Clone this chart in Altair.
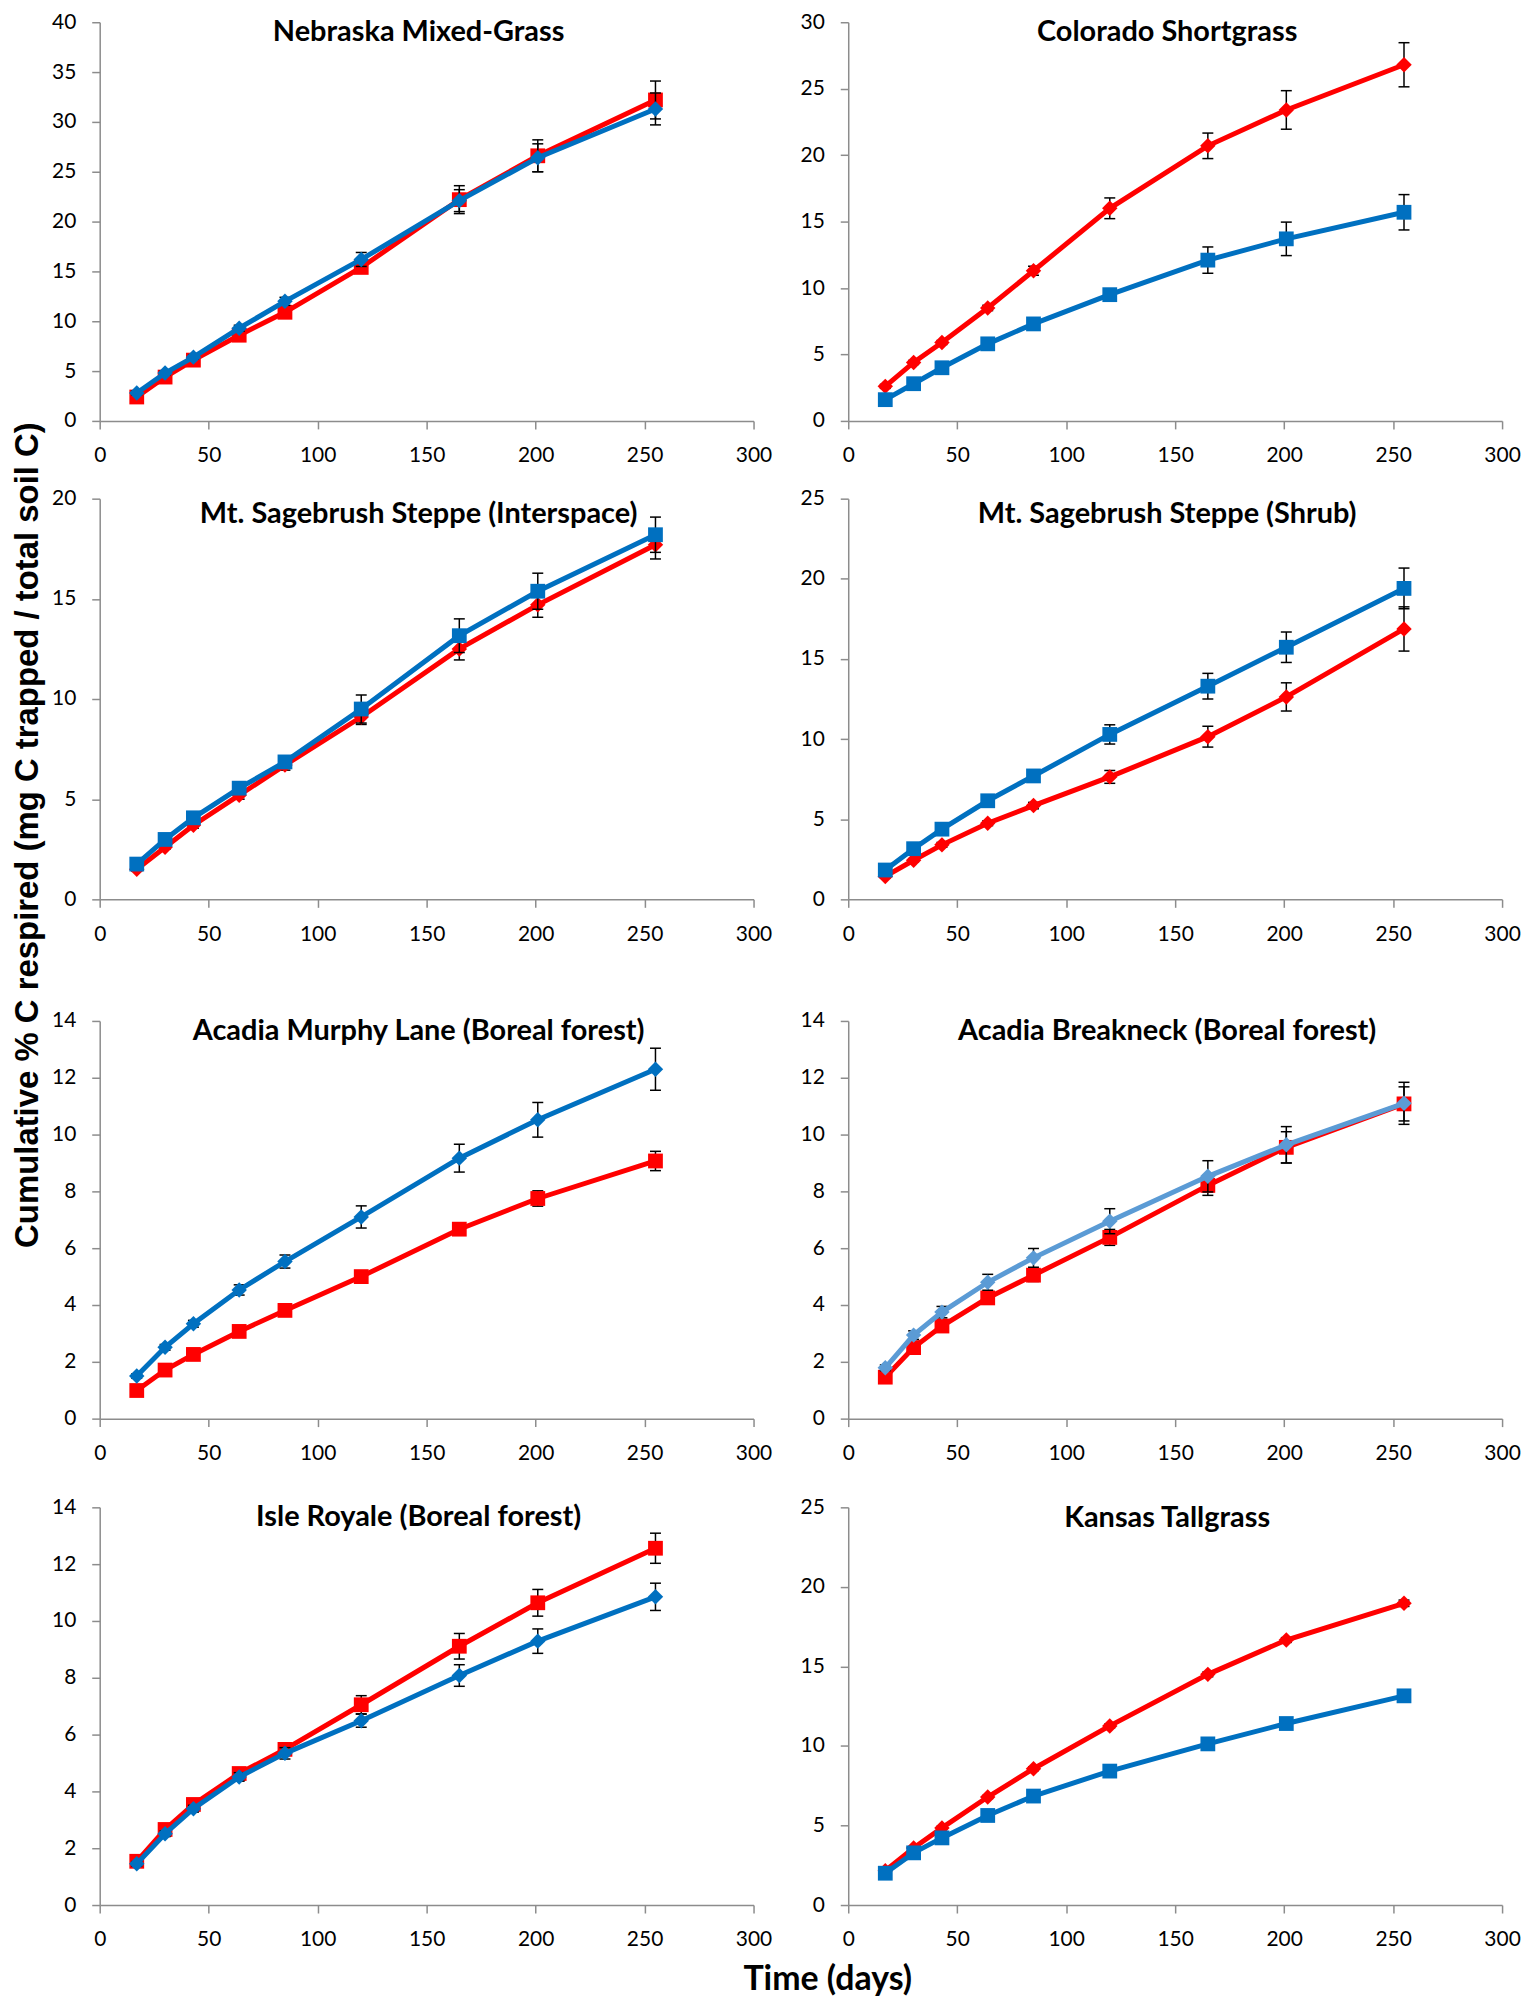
import altair as alt
import pandas as pd

# ---------------- data ----------------
days = [17, 30, 43, 64, 85, 120, 165, 201, 255]
x_ticks = [0, 50, 100, 150, 200, 250, 300]

panel_titles = [
    "Nebraska Mixed-Grass",
    "Colorado Shortgrass",
    "Mt. Sagebrush Steppe (Interspace)",
    "Mt. Sagebrush Steppe (Shrub)",
    "Acadia Murphy Lane (Boreal forest)",
    "Acadia Breakneck (Boreal forest)",
    "Isle Royale (Boreal forest)",
    "Kansas Tallgrass",
]
y_max = [40, 30, 20, 25, 14, 14, 14, 25]
y_step = [5, 5, 5, 5, 2, 2, 2, 5]

# Nebraska Mixed-Grass
neb_red = [2.4, 4.4, 6.1, 8.6, 10.9, 15.4, 22.2, 26.6, 32.2]
neb_red_err = [0.2, 0.2, 0.2, 0.3, 0.4, 0.5, 1.4, 1.6, 1.9]
neb_blue = [2.8, 4.8, 6.4, 9.3, 12.0, 16.2, 22.1, 26.4, 31.3]
neb_blue_err = [0.2, 0.2, 0.2, 0.3, 0.4, 0.7, 1.1, 1.4, 1.6]

# Colorado Shortgrass
col_red = [2.6, 4.4, 5.9, 8.5, 11.3, 16.0, 20.7, 23.4, 26.8]
col_red_err = [0.15, 0.15, 0.15, 0.2, 0.34, 0.78, 0.96, 1.45, 1.66]
col_blue = [1.6, 2.8, 4.0, 5.8, 7.3, 9.5, 12.1, 13.7, 15.7]
col_blue_err = [0.1, 0.15, 0.15, 0.2, 0.25, 0.3, 0.99, 1.26, 1.33]

# Mt. Sagebrush Steppe (Interspace)
int_red = [1.5, 2.6, 3.7, 5.2, 6.7, 9.1, 12.5, 14.7, 17.7]
int_red_err = [0.1, 0.1, 0.15, 0.2, 0.25, 0.37, 0.55, 0.62, 0.71]
int_blue = [1.76, 2.99, 4.07, 5.55, 6.86, 9.5, 13.16, 15.38, 18.2]
int_blue_err = [0.1, 0.1, 0.15, 0.2, 0.25, 0.7, 0.84, 0.9, 0.88]

# Mt. Sagebrush Steppe (Shrub)
shr_red = [1.43, 2.44, 3.4, 4.75, 5.85, 7.64, 10.15, 12.63, 16.87]
shr_red_err = [0.1, 0.1, 0.15, 0.15, 0.2, 0.4, 0.65, 0.88, 1.38]
shr_blue = [1.83, 3.16, 4.38, 6.15, 7.7, 10.29, 13.3, 15.73, 19.4]
shr_blue_err = [0.1, 0.15, 0.15, 0.2, 0.25, 0.6, 0.8, 0.95, 1.27]

# Acadia Murphy Lane
mur_red = [0.99, 1.71, 2.26, 3.07, 3.81, 5.0, 6.67, 7.75, 9.07]
mur_red_err = [0.05, 0.08, 0.08, 0.1, 0.1, 0.12, 0.15, 0.27, 0.34]
mur_blue = [1.5, 2.51, 3.34, 4.53, 5.53, 7.1, 9.17, 10.52, 12.3]
mur_blue_err = [0.08, 0.1, 0.12, 0.18, 0.23, 0.39, 0.49, 0.61, 0.74]

# Acadia Breakneck
brk_red = [1.46, 2.5, 3.26, 4.25, 5.05, 6.38, 8.21, 9.55, 11.08]
brk_red_err = [0.1, 0.12, 0.15, 0.2, 0.22, 0.28, 0.35, 0.55, 0.6]
brk_blue = [1.79, 2.94, 3.75, 4.8, 5.66, 6.95, 8.53, 9.64, 11.1]
brk_blue_err = [0.1, 0.15, 0.2, 0.28, 0.33, 0.44, 0.55, 0.64, 0.74]

# Isle Royale
isl_red = [1.54, 2.66, 3.54, 4.63, 5.48, 7.05, 9.11, 10.64, 12.56]
isl_red_err = [0.08, 0.1, 0.12, 0.12, 0.15, 0.32, 0.45, 0.47, 0.53]
isl_blue = [1.45, 2.51, 3.39, 4.51, 5.34, 6.49, 8.08, 9.29, 10.85]
isl_blue_err = [0.08, 0.1, 0.12, 0.15, 0.2, 0.23, 0.38, 0.43, 0.48]

# Kansas Tallgrass
kan_red = [2.16, 3.59, 4.85, 6.79, 8.57, 11.26, 14.5, 16.66, 18.97]
kan_red_err = [0.05, 0.08, 0.1, 0.1, 0.12, 0.12, 0.15, 0.15, 0.2]
kan_blue = [2.0, 3.28, 4.22, 5.63, 6.85, 8.42, 10.13, 11.41, 13.15]
kan_blue_err = [0.05, 0.05, 0.05, 0.05, 0.05, 0.08, 0.1, 0.1, 0.1]

# ---------------- styling ----------------
RED = "#FF0000"
BLUE = "#0070C0"
LIGHT_BLUE = "#5B9BD5"
AXIS_GREY = "#8C8C8C"
LABEL_FONT = "Lato"

# series drawn in this order (red first, blue on top)
panel_series = [
    [(neb_red, neb_red_err, RED, "square"), (neb_blue, neb_blue_err, BLUE, "diamond")],
    [(col_red, col_red_err, RED, "diamond"), (col_blue, col_blue_err, BLUE, "square")],
    [(int_red, int_red_err, RED, "diamond"), (int_blue, int_blue_err, BLUE, "square")],
    [(shr_red, shr_red_err, RED, "diamond"), (shr_blue, shr_blue_err, BLUE, "square")],
    [(mur_red, mur_red_err, RED, "square"), (mur_blue, mur_blue_err, BLUE, "diamond")],
    [(brk_red, brk_red_err, RED, "square"), (brk_blue, brk_blue_err, LIGHT_BLUE, "diamond")],
    [(isl_red, isl_red_err, RED, "square"), (isl_blue, isl_blue_err, BLUE, "diamond")],
    [(kan_red, kan_red_err, RED, "diamond"), (kan_blue, kan_blue_err, BLUE, "square")],
]

PLOT_W = 656
row_heights = [400, 402, 399, 399]
# distance of each panel title's baseline below the top of its plot area
title_drop = [19, 19, 24, 24, 19, 19, 19, 20]


def make_panel(i, height):
    ymax = y_max[i]
    yvals = list(range(0, ymax + 1, y_step[i]))
    xscale = alt.Scale(domain=[0, 300], nice=False, zero=False)
    yscale = alt.Scale(domain=[0, ymax], nice=False, zero=False)
    xaxis = alt.Axis(values=x_ticks, title=None, labelFlush=False, grid=False)
    yaxis = alt.Axis(values=yvals, title=None, labelFlush=False, grid=False)

    def X():
        return alt.X("day:Q", scale=xscale, axis=xaxis)

    def Y(field):
        return alt.Y(f"{field}:Q", scale=yscale, axis=yaxis)

    layers = []
    for vals, errs, color, shape in panel_series[i]:
        df = pd.DataFrame({
            "day": days,
            "v": vals,
            "lo": [v - e for v, e in zip(vals, errs)],
            "hi": [v + e for v, e in zip(vals, errs)],
        })
        base = alt.Chart(df)
        layers.append(base.mark_rule(color="black", strokeWidth=1.5).encode(
            x=X(), y=Y("lo"), y2="hi:Q"))
        layers.append(base.mark_tick(color="black", thickness=1.5, size=11,
                                     orient="horizontal", opacity=1).encode(x=X(), y=Y("lo")))
        layers.append(base.mark_tick(color="black", thickness=1.5, size=11,
                                     orient="horizontal", opacity=1).encode(x=X(), y=Y("hi")))
        layers.append(base.mark_line(color=color, strokeWidth=5).encode(x=X(), y=Y("v")))
        size = 220 if shape == "square" else 240
        layers.append(base.mark_point(shape=shape, filled=True, size=size, color=color,
                                      opacity=1, strokeWidth=0).encode(x=X(), y=Y("v")))

    # panel title, drawn inside the top of the plot area as in the original
    title_df = pd.DataFrame({"t": [panel_titles[i]]})
    layers.append(
        alt.Chart(title_df).mark_text(
            font=LABEL_FONT, fontSize=29, fontWeight="bold", color="black",
            align="center", baseline="alphabetic",
        ).encode(
            text="t:N",
            x=alt.value(PLOT_W / 2 - 8),
            y=alt.value(title_drop[i]),
        )
    )

    return alt.layer(*layers).properties(width=PLOT_W, height=height)


panels = [make_panel(i, row_heights[i // 2]) for i in range(8)]
rows = [alt.hconcat(panels[2 * r], panels[2 * r + 1], spacing=95, bounds="flush") for r in range(4)]

upper = alt.vconcat(rows[0], rows[1], spacing=22)
lower = alt.vconcat(rows[2], rows[3], spacing=33)
grid = alt.vconcat(upper, lower, spacing=66).properties(
    title=alt.TitleParams(
        text="Cumulative % C respired (mg C trapped / total soil C)",
        orient="left",
        anchor="middle",
        font="Liberation Sans",
        fontSize=33,
        fontWeight="bold",
        color="black",
        offset=7,
        dx=146,
    )
)

chart = alt.vconcat(grid, spacing=0).properties(
    title=alt.TitleParams(
        text="Time (days)",
        orient="bottom",
        anchor="middle",
        font=LABEL_FONT,
        fontSize=34,
        fontWeight="bold",
        color="black",
        baseline="top",
        offset=13,
        dx=62,
    ),
    padding={"left": 3, "top": 0, "right": 5, "bottom": 0},
).configure_view(stroke=None).configure_axis(
    domainColor=AXIS_GREY,
    domainWidth=1.5,
    tickColor=AXIS_GREY,
    tickWidth=1.5,
    tickSize=8,
    labelFont=LABEL_FONT,
    labelFontSize=21,
    labelColor="black",
    labelPadding=16,
    grid=False,
)

chart.save("out.html", embed_options={"renderer": "svg", "actions": False})
